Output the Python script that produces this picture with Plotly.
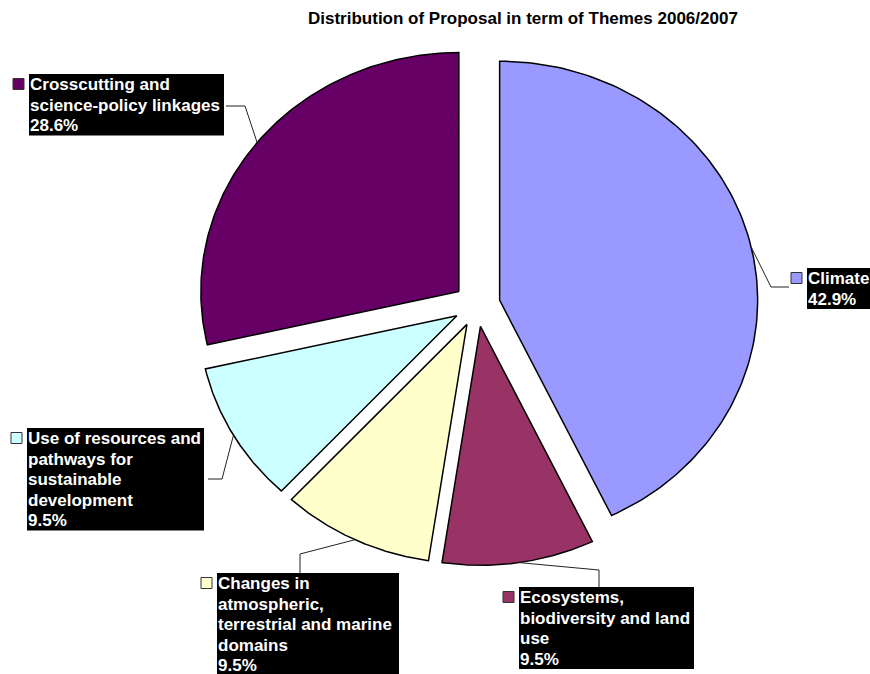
import numpy as np
import plotly.graph_objects as go

# Proposals per theme, 2006/2007
themes = [
    "Climate",
    "Ecosystems, biodiversity and land use",
    "Changes in atmospheric, terrestrial and marine domains",
    "Use of resources and pathways for sustainable development",
    "Crosscutting and science-policy linkages",
]
proposals = [9, 2, 2, 2, 6]

# Wrapped label text for each theme
theme_lines = [
    ["Climate"],
    ["Ecosystems,", "biodiversity and land", "use"],
    ["Changes in", "atmospheric,", "terrestrial and marine", "domains"],
    ["Use of resources and", "pathways for", "sustainable", "development"],
    ["Crosscutting and", "science-policy linkages"],
]

colors = ["#9999FF", "#993366", "#FFFFCC", "#CCFFFF", "#660066"]

# Canvas / pie geometry (pixel units)
W, H = 870, 674
CX, CY = 477, 305          # pie centre
RX, RY = 258, 239          # elliptical radii
PULL = 0.09                # explode fraction of radius

# Label boxes: left, top, right edges and leader-line elbow / end points
box_left = [807, 519, 217, 27, 29]
box_top = [268, 587, 573, 428, 74]
box_right = [870, 694, 399, 204, 224]
leader_elbow = [(771, 287), (599, 570), (300, 554), (222, 479), (245, 106)]
leader_end = [(789, 287), (599, 587), (300, 573), (208, 479), (226, 106)]

LINE_H = 20.5
FONT = "Liberation Sans, Arial, sans-serif"

fig = go.Figure()
shapes = []
annotations = []

total = sum(proposals)
cum = 0.0
for i, v in enumerate(proposals):
    frac = v / total
    a0 = cum * 2 * np.pi
    a1 = (cum + frac) * 2 * np.pi
    mid = (a0 + a1) / 2
    cum += frac

    # exploded slice vertex
    vx = CX + PULL * np.sin(mid) * RX
    vy = CY - PULL * np.cos(mid) * RY
    th = np.linspace(a0, a1, 120)
    xs = np.concatenate([[vx], vx + RX * np.sin(th), [vx]])
    ys = np.concatenate([[vy], vy - RY * np.cos(th), [vy]])
    fig.add_trace(go.Scatter(
        x=xs, y=ys, mode="lines", fill="toself",
        fillcolor=colors[i], line=dict(color="black", width=1.5),
        hoverinfo="skip", name=themes[i],
    ))

    # leader line from the arc midpoint to the label
    ax = vx + RX * np.sin(mid)
    ay = vy - RY * np.cos(mid)
    fig.add_trace(go.Scatter(
        x=[ax, leader_elbow[i][0], leader_end[i][0]],
        y=[ay, leader_elbow[i][1], leader_end[i][1]],
        mode="lines", line=dict(color="#222222", width=1),
        hoverinfo="skip", showlegend=False,
    ))

    # label box
    lines = theme_lines[i] + [f"{v / total * 100:.1f}%"]
    top = box_top[i]
    bottom = top + len(lines) * LINE_H
    shapes.append(dict(type="rect", xref="x", yref="y",
                       x0=box_left[i], x1=box_right[i], y0=top, y1=bottom,
                       fillcolor="black", line=dict(width=0), layer="above"))
    # legend key square
    shapes.append(dict(type="rect", xref="x", yref="y",
                       x0=box_left[i] - 16, x1=box_left[i] - 5,
                       y0=top + 4.5, y1=top + 15.5,
                       fillcolor=colors[i], line=dict(color="#333333", width=1),
                       layer="above"))
    for k, txt in enumerate(lines):
        annotations.append(dict(
            x=box_left[i] - 1, y=top + 10.5 + k * LINE_H,
            xref="x", yref="y", xanchor="left", yanchor="middle",
            text=txt, showarrow=False,
            font=dict(family=FONT, size=17, color="white", weight="bold"),
        ))

annotations.append(dict(
    x=523, y=18, xref="x", yref="y", xanchor="center", yanchor="middle",
    text="Distribution of Proposal in term of Themes 2006/2007",
    showarrow=False,
    font=dict(family=FONT, size=17, color="black", weight="bold"),
))

fig.update_layout(
    width=W, height=H,
    margin=dict(l=0, r=0, t=0, b=0),
    paper_bgcolor="white", plot_bgcolor="white",
    showlegend=False,
    xaxis=dict(range=[0, W], visible=False, fixedrange=True),
    yaxis=dict(range=[H, 0], visible=False, fixedrange=True),
    shapes=shapes,
    annotations=annotations,
)

fig.write_html("out.html")
